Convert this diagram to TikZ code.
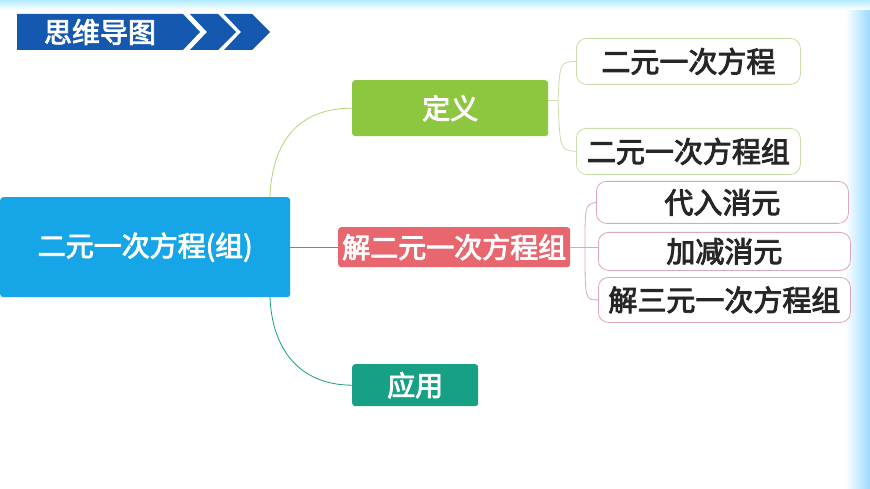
\documentclass[tikz,border=0pt]{standalone}
\usepackage{fontspec}
\newfontfamily\cjk{Noto Sans CJK SC}[AutoFakeBold=3]
\usetikzlibrary{shadings}
\definecolor{mainblue}{HTML}{16A6E8}
\definecolor{hdrblue}{HTML}{1558B0}
\definecolor{defgreen}{HTML}{8DC63F}
\definecolor{solred}{HTML}{E8676F}
\definecolor{appteal}{HTML}{17A084}
\definecolor{lgreen}{HTML}{C9DDA8}
\definecolor{lpink}{HTML}{DDA7B7}
\definecolor{leaftext}{HTML}{262626}
\tikzset{
  fill box/.style={rounded corners=3pt,text=white,font=\cjk\bfseries\fontsize{28}{30}\selectfont,inner sep=0pt,anchor=north west},
  leaf/.style={draw=#1,rounded corners=10pt,fill=white,text=leaftext,font=\cjk\bfseries\fontsize{29}{31}\selectfont,inner sep=0pt,anchor=north west,line width=0.8pt},
  link/.style={draw=#1,line width=0.8pt}
}
\begin{document}
\begin{tikzpicture}[x=1pt,y=-1pt]
\useasboundingbox (0,0) rectangle (870,489);
\fill[white] (0,0) rectangle (870,489);
\shade[left color=white,right color=blue!35!cyan!40] (845,0) rectangle (870,489);
\shade[top color=blue!25!cyan!30,bottom color=white] (0,0) rectangle (870,10);
% header
\fill[hdrblue] (17,14) -- (183,14) -- (200,32) -- (183,50) -- (17,50) -- cycle;
\fill[hdrblue] (190,14) -- (218,14) -- (236,32) -- (218,50) -- (190,50) -- (207,32) -- cycle;
\fill[hdrblue] (224,14) -- (252,14) -- (270,32) -- (252,50) -- (224,50) -- (241,32) -- cycle;
\node[text=white,font=\cjk\bfseries\fontsize{28}{30}\selectfont] (hdr) at (100,32) {思维导图};
% nodes
\node[fill box,fill=mainblue,minimum width=290,minimum height=100] (main) at (0,197) {二元一次方程(组)};
\node[fill box,fill=defgreen,minimum width=196,minimum height=56] (def) at (352,80) {定义};
\node[fill box,fill=solred,minimum width=232,minimum height=40] (sol) at (338,227) {解二元一次方程组};
\node[fill box,fill=appteal,minimum width=126,minimum height=42] (app) at (352,364) {应用};
\node[leaf=lgreen,minimum width=224,minimum height=46] (d1) at (576,38) {二元一次方程};
\node[leaf=lgreen,minimum width=224,minimum height=46] (d2) at (576,128) {\raisebox{-6pt}{二元一次方程组}};
\node[leaf=lpink,minimum width=252,minimum height=42] (s1) at (596,181) {代入消元};
\node[leaf=lpink,minimum width=252,minimum height=38] (s2) at (598,232) {加减消元};
\node[leaf=lpink,minimum width=252,minimum height=45] (s3) at (598,277) {解三元一次方程组};
% connectors
\coordinate (mt) at (270,197);
\coordinate (mb) at (270,297);
\draw[link=defgreen!70] (mt) .. controls (272,140) and (300,108) .. (def.west);
\draw[link=appteal] (mb) .. controls (272,350) and (300,385) .. (app.west);
\draw[link=mainblue] (main.east) -- (sol.west);
\coordinate (dj) at (558,100);
\draw[link=lgreen] (def.east |- dj) -- (dj);
\draw[link=lgreen] (dj) .. controls (560,62) .. (d1.west);
\draw[link=lgreen] (dj) .. controls (560,150) .. (d2.west);
\coordinate (sj) at (585,247);
\draw[link=lpink] (sol.east) -- (s2.west |- sol.east);
\draw[link=lpink] (sj) .. controls (585,205) .. (s1.west);
\draw[link=lpink] (sj) .. controls (585,300) .. (s3.west);
\end{tikzpicture}
\end{document}
